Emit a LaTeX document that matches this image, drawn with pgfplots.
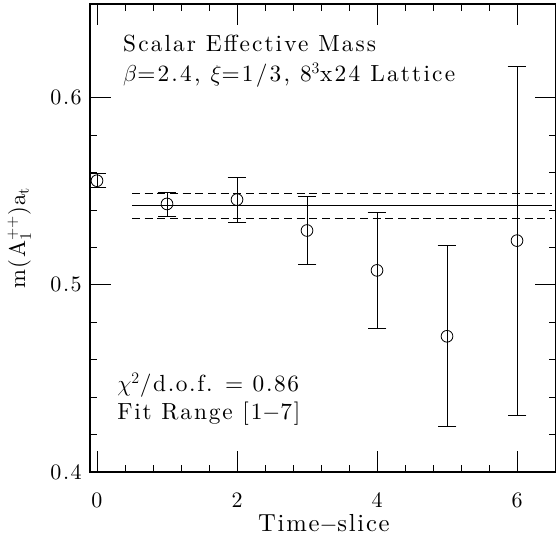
\documentclass[border=0pt]{standalone}
\usepackage{pgfplots}
\pgfplotsset{compat=1.18}
\usepackage{fontspec}
\setmainfont{lmroman10-regular}[Extension=.otf, LetterSpace=7, ItalicFont=lmroman10-italic, BoldFont=lmroman10-bold]
\begin{document}
\begin{tikzpicture}
\begin{axis}[name=ax, scale only axis, width=349.5pt, height=351pt,
  xmin=-0.1, xmax=6.557, ymin=0.4, ymax=0.65,
  xtick={0,2,4,6}, ytick={0.4,0.5,0.6},
  minor x tick num=4, minor y tick num=4,
  tick align=inside, major tick length=16pt, minor tick length=5pt,
  axis line style={line width=0.8pt},
  tick style={line width=0.6pt, black},
  /pgf/number format/assume math mode=true,
  tick label style={font=\fontsize{16.5}{19}\selectfont},
  xticklabel style={anchor=center, yshift=-21pt},
  yticklabel style={xshift=-2.7pt, /pgf/number format/.cd, fixed, fixed zerofill, precision=1},
  xlabel={Time$-$slice},
  ylabel={m(A$_1^{++}$)a$_{\mathrm{t}}$},
  xlabel style={font=\fontsize{18.5}{21}\selectfont, at={(axis description cs:0.502,0)}, anchor=center, yshift=-39pt},
  ylabel style={font=\fontsize{17}{20}\selectfont, at={(axis description cs:-0.152,0.5)}, anchor=center},
  clip=true,
]
\addplot[black, line width=0.6pt, only marks, mark=o, mark size=4.4pt,
  error bars/.cd, y dir=both, y explicit,
  error bar style={line width=0.6pt, black},
  error mark options={rotate=90, mark size=7pt, line width=0.6pt, black}]
  table[x=x, y=y, y error=e] {
x y e
0 0.5556 0.0038
1 0.5432 0.0064
2 0.5455 0.0121
3 0.5290 0.0183
4 0.5077 0.0312
5 0.4725 0.0483
6 0.5236 0.0932
};
\addplot[black, line width=0.6pt, no marks] coordinates {(0.5,0.5422) (6.5,0.5422)};
\addplot[black, line width=0.6pt, no marks, dash pattern=on 6pt off 3.5pt] coordinates {(0.5,0.5489) (6.5,0.5489)};
\addplot[black, line width=0.6pt, no marks, dash pattern=on 6pt off 3.5pt] coordinates {(0.5,0.5355) (6.5,0.5355)};
\node[anchor=base west, font=\fontsize{17.5}{21}\selectfont\addfontfeatures{LetterSpace=9}, inner sep=0pt] at (axis cs:0.371,0.6246) {Scalar Effective Mass};
\node[anchor=base west, font=\fontsize{17.5}{21}\selectfont\addfontfeatures{LetterSpace=9.5}, inner sep=0pt] at (axis cs:0.371,0.6086) {$\beta$=2.4, $\xi$=1/3, 8$^3$x24 Lattice};
\node[anchor=base west, font=\fontsize{17.5}{21}\selectfont, inner sep=0pt] at (axis cs:0.286,0.4428) {$\chi^2$/d.o.f. = 0.86};
\node[anchor=base west, font=\fontsize{17.5}{21}\selectfont\addfontfeatures{LetterSpace=8}, inner sep=0pt] at (axis cs:0.286,0.4278) {Fit Range [1$-$7]};
\end{axis}
\pgfresetboundingbox
\path[use as bounding box] ([shift={(-67.5pt,-50.25pt)}]ax.south west) rectangle ([shift={(0pt,3pt)}]ax.north east);
\end{tikzpicture}
\end{document}
